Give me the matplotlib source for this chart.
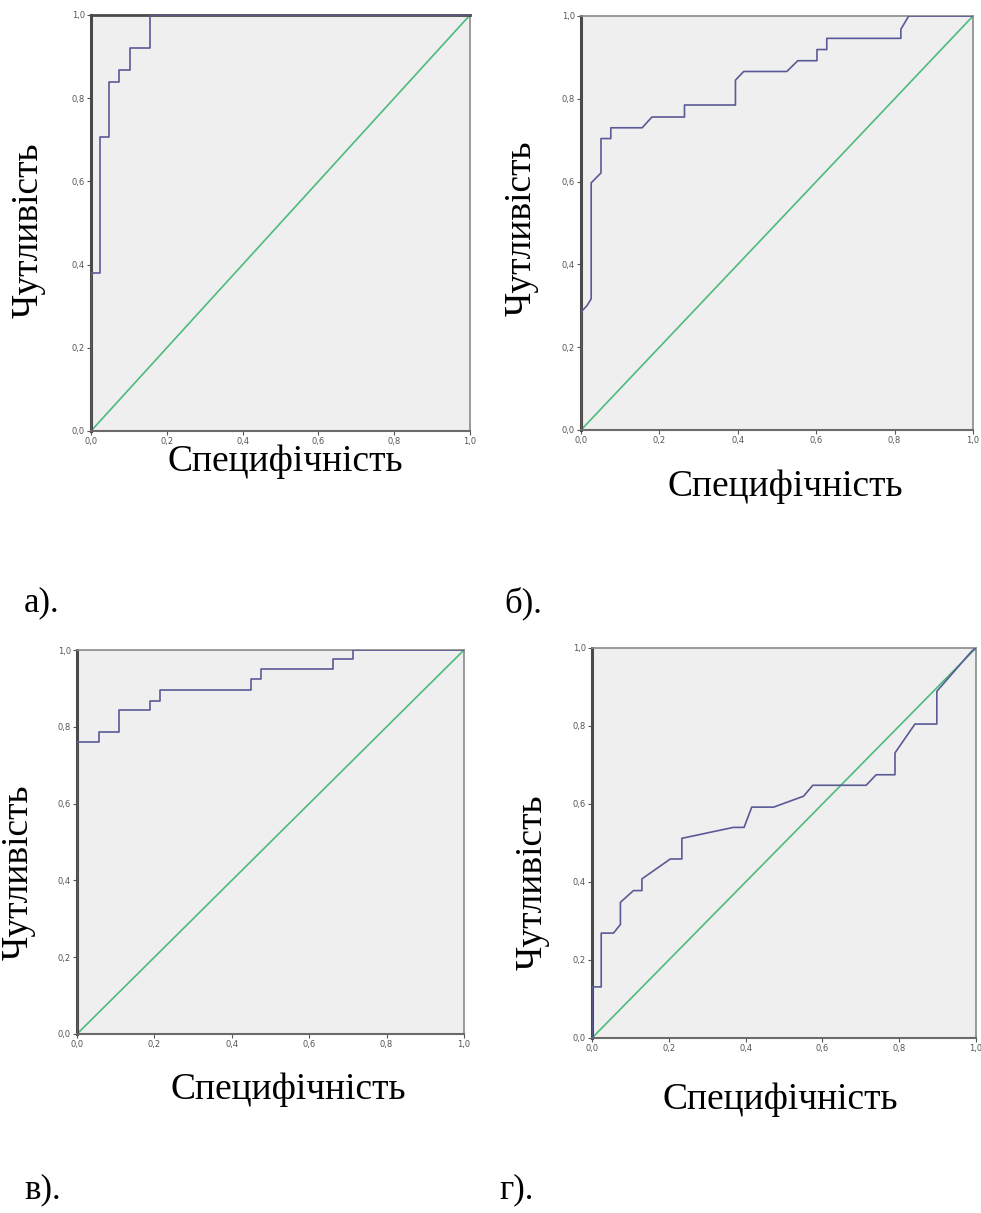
import matplotlib
matplotlib.use("Agg")
import matplotlib.pyplot as plt
from matplotlib.ticker import FuncFormatter

# ROC curve vertices (1 - specificity, sensitivity)
a_x = [0.0, 0.0, 0.023, 0.023, 0.048, 0.048, 0.073, 0.073, 0.104, 0.104, 0.156, 0.156, 1.0]
a_y = [0.0, 0.38, 0.38, 0.706, 0.706, 0.84, 0.84, 0.868, 0.868, 0.92, 0.92, 1.0, 1.0]

b_x = [0.0, 0.0, 0.015, 0.026, 0.026, 0.051, 0.051, 0.076, 0.076, 0.156, 0.181, 0.264, 0.264,
       0.394, 0.394, 0.415, 0.525, 0.553, 0.602, 0.602, 0.627, 0.627, 0.816, 0.816, 0.836, 1.0]
b_y = [0.0, 0.285, 0.30, 0.317, 0.597, 0.621, 0.704, 0.704, 0.73, 0.73, 0.756, 0.756, 0.785,
       0.785, 0.845, 0.866, 0.866, 0.892, 0.892, 0.919, 0.919, 0.946, 0.946, 0.968, 1.0, 1.0]

c_x = [0.0, 0.0, 0.057, 0.057, 0.108, 0.108, 0.189, 0.189, 0.214, 0.214, 0.449, 0.449, 0.475,
       0.475, 0.662, 0.662, 0.713, 0.713, 1.0]
c_y = [0.0, 0.76, 0.76, 0.786, 0.786, 0.843, 0.843, 0.867, 0.867, 0.896, 0.896, 0.924, 0.924,
       0.95, 0.95, 0.977, 0.977, 1.0, 1.0]

d_x = [0.0, 0.0, 0.024, 0.024, 0.056, 0.074, 0.074, 0.108, 0.130, 0.130, 0.204, 0.234, 0.234,
       0.368, 0.396, 0.416, 0.473, 0.551, 0.575, 0.714, 0.740, 0.789, 0.789, 0.841, 0.898,
       0.898, 0.989, 1.0]
d_y = [0.0, 0.131, 0.131, 0.269, 0.269, 0.291, 0.348, 0.378, 0.378, 0.408, 0.459, 0.459, 0.512,
       0.540, 0.540, 0.592, 0.592, 0.620, 0.648, 0.648, 0.675, 0.675, 0.731, 0.805, 0.805,
       0.889, 0.992, 1.0]

ref_line = [0.0, 1.0]
ticks = [0.0, 0.2, 0.4, 0.6, 0.8, 1.0]

panel_labels = ["а).", "б).", "в).", "г)."]
xlabel_text = "Специфічність"
ylabel_text = "Чутливість"

W, H = 981, 1213
fig = plt.figure(figsize=(W / 100, H / 100), dpi=100)
fig.patch.set_facecolor("white")

# axes boxes in pixels: (left, top, right, bottom)
boxes = [(91, 15, 470, 431), (581, 16, 973, 430), (77, 650, 464, 1034), (592, 648, 976, 1038)]
curves = [(a_x, a_y), (b_x, b_y), (c_x, c_y), (d_x, d_y)]
ylab_pos = [(28, 230), (521, 228), (18, 872), (532, 882)]
xlab_pos = [(285, 462), (785, 487), (288, 1090), (780, 1100)]
plab_pos = [(24, 603), (504, 603), (24, 1190), (499, 1190)]

fmt = FuncFormatter(lambda v, p: f"{v:.1f}".replace(".", ","))

for i, ((l, t, r, b), (cx, cy)) in enumerate(zip(boxes, curves)):
    ax = fig.add_axes([l / W, 1 - b / H, (r - l) / W, (b - t) / H])
    ax.set_facecolor("#efefef")
    ax.plot(ref_line, ref_line, color="#4cbb7c", lw=1.2, zorder=2)
    ax.plot(cx, cy, color="#5a5a96", lw=1.2, zorder=3)
    ax.set_xlim(0, 1)
    ax.set_ylim(0, 1)
    ax.set_xticks(ticks)
    ax.set_yticks(ticks)
    ax.xaxis.set_major_formatter(fmt)
    ax.yaxis.set_major_formatter(fmt)
    ax.tick_params(labelsize=6, colors="#555555", length=3, width=0.8, pad=1.5)
    for s in ax.spines.values():
        s.set_color("#8a8a8a")
        s.set_linewidth(1.2)
    ax.spines["left"].set_color("#4a4a4a")
    ax.spines["left"].set_linewidth(2.2)
    ax.spines["bottom"].set_color("#6a6a6a")
    ax.spines["bottom"].set_linewidth(1.5)
    if i == 0:
        ax.spines["top"].set_color("#4a4a4a")
        ax.spines["top"].set_linewidth(2.0)

    yx, yy = ylab_pos[i]
    fig.text(yx / W, 1 - yy / H, ylabel_text, rotation=90, ha="center", va="center",
             family="Liberation Serif", fontsize=27, color="black")
    xx, xy = xlab_pos[i]
    fig.text(xx / W, 1 - xy / H, xlabel_text, ha="center", va="center",
             family="Liberation Serif", fontsize=27, color="black")
    px, py = plab_pos[i]
    fig.text(px / W, 1 - py / H, panel_labels[i], ha="left", va="center",
             family="Liberation Serif", fontsize=25, color="black")

fig.savefig("out.png", dpi=100, facecolor="white")
